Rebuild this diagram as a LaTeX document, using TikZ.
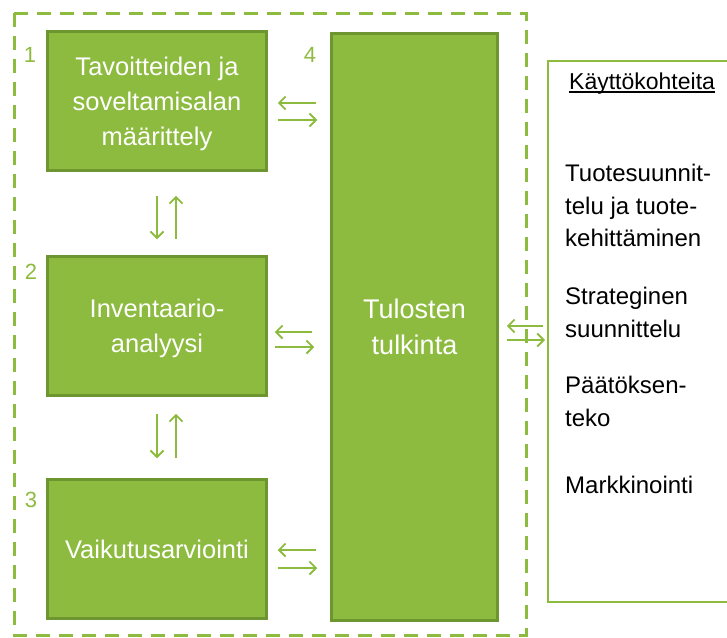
\documentclass[tikz,border=0pt]{standalone}
\usepackage{fontspec}
\setmainfont{Liberation Sans}
\usetikzlibrary{arrows.meta, calc, positioning}

\definecolor{leafgreen}{RGB}{141,187,64}
\definecolor{leafdark}{RGB}{110,150,48}

\begin{document}
\begin{tikzpicture}[x=1pt, y=-1pt,
    phase/.style={rectangle, draw=leafdark, line width=2.5pt, fill=leafgreen, text=white, align=center,
                  minimum width=219pt, minimum height=139pt, inner sep=0pt, text depth=-2pt,
                  font=\fontsize{25.5}{35}\selectfont},
    stepnum/.style={text=leafgreen, inner sep=0pt, font=\fontsize{22}{26}\selectfont},
    frame/.style={draw=leafgreen, line width=3pt, dash pattern=on 14pt off 9pt},
    flow/.style={draw=leafgreen, line width=1.8pt, -{Straight Barb[length=6.5pt, width=13pt]}},
    usetext/.style={anchor=north west, align=left, inner sep=0pt, font=\fontsize{24}{32.5}\selectfont}]

  \useasboundingbox (0,0) rectangle (727,637);
  \clip (0,0) rectangle (727,637);

  \draw[frame] (14,13) rectangle (526,635);

  \node[phase] (goal) at (157,101) {Tavoitteiden ja\\soveltamisalan\\määrittely};
  \node[phase] (inv) at (157,326) {Inventaario-\\analyysi};
  \node[phase] (impact) at (157,549) {Vaikutusarviointi};
  \node[phase, minimum width=166pt, minimum height=587pt, font=\fontsize{27}{36}\selectfont] (interp) at (414.5,327) {Tulosten\\tulkinta};

  \node[stepnum] (n1) at (30,55) {1};
  \node[stepnum] (n2) at (31,272) {2};
  \node[stepnum] (n3) at (31,500) {3};
  \node[stepnum] (n4) at (310,55) {4};

  % applications
  \node[draw=leafgreen, line width=2pt, fill=white, anchor=north west, minimum width=200pt, minimum height=541pt] (uses) at (547,60) {};
  \node[inner sep=0pt, anchor=base west, font=\fontsize{23}{27}\selectfont] (usehead) at (569,89) {Käyttökohteita};
  \draw[line width=1.2pt] ($(usehead.base west)+(0,3)$) -- ($(usehead.base east)+(0,3)$);
  \node[usetext] (use1) at (565,164) {Tuotesuunnit-\\telu ja tuote-\\kehittäminen};
  \node[usetext] (use2) at (565,287) {Strateginen\\suunnittelu};
  \node[usetext] (use3) at (565,376) {Päätöksen-\\teko};
  \node[usetext] (use4) at (565,476) {Markkinointi};

  % horizontal arrows
  \draw[flow] ($(interp.west |- goal.east)+(-14,2)$) -- ($(goal.east)+(10,2)$);
  \draw[flow] ($(goal.east)+(10,19)$) -- ($(interp.west |- goal.east)+(-13,19)$);
  \draw[flow] ($(interp.west |- inv.east)+(-18,6)$) -- ($(inv.east)+(7,6)$);
  \draw[flow] ($(inv.east)+(7,21)$) -- ($(interp.west |- inv.east)+(-16,21)$);
  \draw[flow] ($(interp.west |- impact.east)+(-14,1)$) -- ($(impact.east)+(10,1)$);
  \draw[flow] ($(impact.east)+(10,19)$) -- ($(interp.west |- impact.east)+(-13,19)$);
  \draw[flow] ($(uses.west |- interp.east)+(-4,-1)$) -- ($(interp.east)+(8,-1)$);
  \draw[flow] ($(interp.east)+(8,13)$) -- ($(uses.west |- interp.east)+(-2,13)$);

  % vertical arrows
  \draw[flow] ($(goal.south)+(0,24)$) -- ($(inv.north)+(0,-16)$);
  \draw[flow] ($(inv.north)+(19,-16)$) -- ($(goal.south)+(19,24)$);
  \draw[flow] ($(inv.south)+(0,17)$) -- ($(impact.north)+(0,-20)$);
  \draw[flow] ($(impact.north)+(19,-20)$) -- ($(inv.south)+(19,17)$);

\end{tikzpicture}
\end{document}
